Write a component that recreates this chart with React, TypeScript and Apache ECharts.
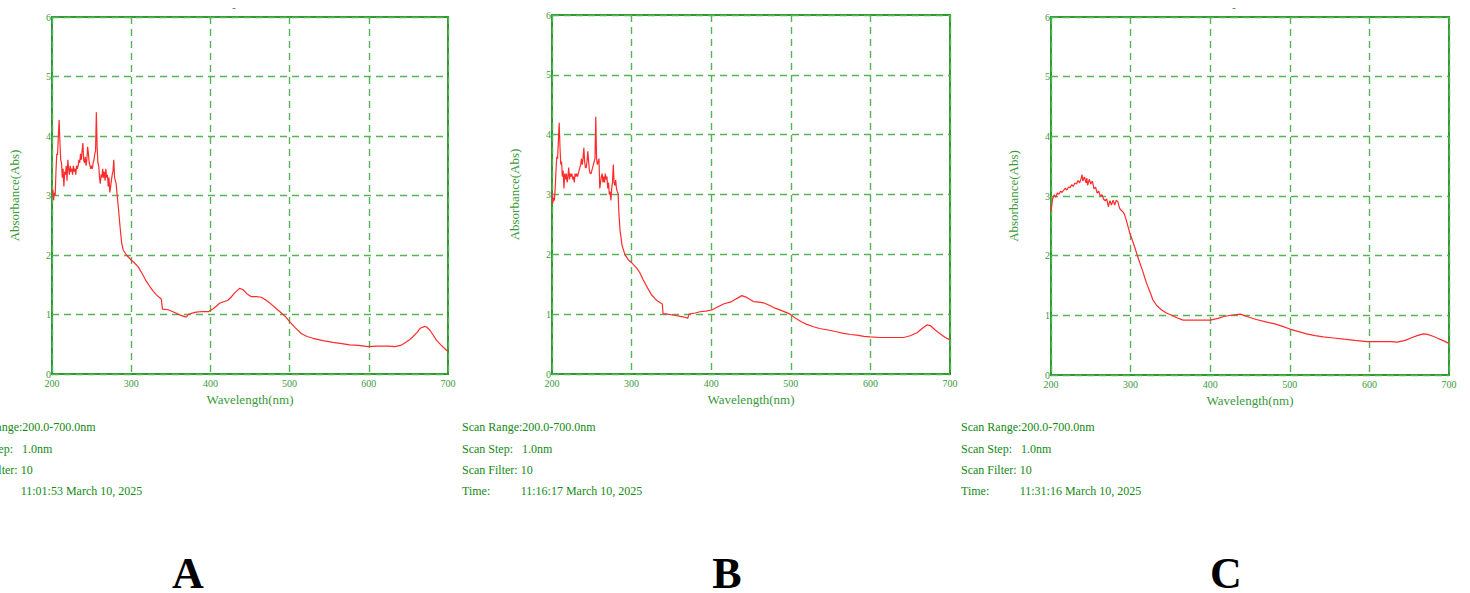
import React, { useEffect, useRef } from "react";
import * as echarts from "echarts";

// ---------- data ----------
const waveA = [200,201,202,203,204,205,206,207,208,209,210,211,212,213,214,215,216,217,218,219,220,221,222,223,224,225,226,227,228,229,230,231,232,233,234,235,236,237,238,239,240,241,242,243,244,245,246,247,248,249,250,251,252,253,254,255,256,257,258,259,260,261,262,263,264,265,266,267,268,269,270,271,272,273,274,275,276,277,278,279,280,281,282,
  283.7,285.9,288,290,294,299.6,304,308.9,315,319,323.5,328,331.8,338,339.5,346.6,352,357,362,368.5,370,371.8,376,382,390,397.8,404,411.6,422,426,430.5,436.8,441,446,451.6,458,464.2,470.5,477,483,490,495,500,507,514.7,522,529.5,542,554.8,566,575.8,587,599,610,618,625,632.8,640,645.4,651,656,661,665,670.6,673,677,681,685.4,691,698,700];
const absA = [3.05,3.10,2.92,3.05,3.0,3.4,3.7,3.68,4.0,4.27,3.9,3.6,3.55,3.3,3.45,3.15,3.4,3.35,3.5,3.25,3.6,3.45,3.35,3.5,3.4,3.45,3.35,3.5,3.4,3.45,3.35,3.5,3.45,3.5,3.6,3.55,3.7,3.6,3.75,3.88,3.6,3.55,3.65,3.5,3.6,3.82,3.7,3.55,3.5,3.45,3.5,3.45,3.55,3.6,3.7,3.75,4.4,3.8,3.55,3.5,3.3,3.2,3.35,3.3,3.45,3.3,3.4,3.25,3.45,3.3,3.35,3.15,3.3,3.05,3.15,3.25,3.35,3.4,3.6,3.3,3.25,3.2,3.04,
  2.81,2.48,2.2,2.08,2.0,1.92,1.87,1.80,1.66,1.56,1.47,1.39,1.33,1.26,1.09,1.08,1.05,1.02,0.99,0.96,0.96,1.0,1.02,1.04,1.05,1.05,1.10,1.19,1.24,1.29,1.36,1.44,1.42,1.35,1.30,1.30,1.29,1.24,1.17,1.10,1.02,0.96,0.88,0.78,0.68,0.63,0.60,0.56,0.53,0.51,0.49,0.48,0.46,0.47,0.47,0.47,0.46,0.48,0.52,0.57,0.63,0.70,0.77,0.80,0.79,0.74,0.66,0.57,0.49,0.40,0.38];

const waveB = [200,201,202,203,204,205,206,207,208,209,210,211,212,213,214,215,216,217,218,219,220,221,222,223,224,225,226,227,228,229,230,231,232,233,234,235,236,237,238,239,240,241,242,243,244,245,246,247,248,249,250,251,252,253,254,255,256,257,258,259,260,261,262,263,264,265,266,267,268,269,270,271,272,273,274,275,276,277,278,279,280,281,282,283,
  284,285.4,288,291.7,295.9,300,306.4,310,314.7,320,325.2,330,333.6,338.6,339.5,345,350,363,369,370.5,372.2,380,386,393,400.7,408,415.4,425.8,432,438.4,444.7,453,460,465.6,473,480.3,490,499.2,506,513.8,520,528.5,536,545.3,556,566.2,575,583,592,599.8,612,625,641.7,650,658.5,665,671,675.3,681,687.9,694,700];
const absB = [3.05,2.85,2.95,2.9,3.1,3.4,3.63,3.6,3.9,4.2,3.8,3.5,3.55,3.3,3.4,3.1,3.35,3.25,3.35,3.2,3.3,3.45,3.25,3.35,3.3,3.35,3.25,3.3,3.2,3.35,3.3,3.35,3.3,3.35,3.4,3.45,3.5,3.6,3.5,3.6,3.78,3.55,3.45,3.45,3.55,3.72,3.55,3.4,3.35,3.35,3.4,3.45,3.5,3.55,3.6,4.3,3.6,3.5,3.55,3.6,3.1,3.2,3.3,3.35,3.2,3.3,3.2,3.35,3.25,3.3,3.1,3.2,3.0,3.05,2.9,3.1,3.2,3.5,3.2,3.15,3.24,3.1,3.05,3.02,
  2.7,2.41,2.15,1.99,1.91,1.86,1.77,1.70,1.57,1.44,1.32,1.25,1.21,1.17,1.01,1.00,0.99,0.96,0.94,0.93,1.0,1.02,1.04,1.05,1.07,1.12,1.17,1.21,1.26,1.31,1.28,1.21,1.20,1.19,1.15,1.10,1.05,1.0,0.93,0.87,0.83,0.79,0.76,0.74,0.71,0.68,0.66,0.65,0.63,0.62,0.61,0.61,0.61,0.64,0.69,0.76,0.82,0.81,0.74,0.67,0.61,0.57];

const waveC = [200,202,204,206,208,210,212,214,216,218,220,222,224,226,228,230,232,234,236,238,239,240,242,244,245,246,248,250,252,254,256,258,260,262,264,266,268,270,272,274,276,278,280,282,284,286,288,290,292,294,
  299,305,309.5,315,320,325,328,333,339,345,350,358,366,383,400,410,417,430,438,446,458,470,480,490,500,510,521,532,542,555,568,582,597,615,627,635,645,652,660,668,673,680,685,692,700];
const absC = [2.74,2.95,3.02,2.98,3.05,3.03,3.08,3.06,3.1,3.13,3.1,3.15,3.14,3.19,3.16,3.22,3.2,3.26,3.22,3.3,3.36,3.25,3.32,3.22,3.3,3.18,3.28,3.2,3.25,3.12,3.15,3.05,3.08,3.0,3.02,2.95,2.92,2.95,2.82,2.92,2.85,2.93,2.85,2.93,2.9,2.8,2.76,2.74,2.7,2.62,
  2.38,2.15,1.96,1.75,1.54,1.37,1.26,1.16,1.09,1.04,1.01,0.96,0.92,0.92,0.92,0.95,0.98,1.01,1.02,0.98,0.93,0.89,0.86,0.82,0.77,0.73,0.69,0.66,0.64,0.62,0.60,0.58,0.56,0.56,0.56,0.55,0.58,0.62,0.66,0.69,0.68,0.65,0.62,0.58,0.53];

const xTicks = { min: 200, max: 700, step: 100 };
const yTicks = { min: 0, max: 6, step: 1 };
const panelLetters = ["A", "B", "C"];
const scanTimes = ["11:01:53 March 10, 2025", "11:16:17 March 10, 2025", "11:31:16 March 10, 2025"];
const infoLabels = ["Scan Range:200.0-700.0nm", "Scan Step:   1.0nm", "Scan Filter: 10", "Time:"];

// ---------- layout ----------
const grids = [
  { left: 52, top: 17, width: 396, height: 357 },
  { left: 552, top: 15, width: 398, height: 359 },
  { left: 1051, top: 17, width: 398, height: 358 },
];
const infoX = [-38, 462, 961];
const letterX = [188, 727, 1226];
const dashX = [234, null, 1234];

const BORDER = "#2f9a2f";
const GRIDC = "#55b455";
const LABELC = "#3a9a3a";
const TEXTC = "#138a13";
const LINEC = "#ff2b2b";
const SERIF = "'Liberation Serif', 'Times New Roman', serif";

export default function App() {
  const ref = useRef<HTMLDivElement>(null);
  useEffect(() => {
    if (!ref.current) return;
    const chart = echarts.init(ref.current, null, { renderer: "svg" });
    const waves = [waveA, waveB, waveC];
    const abss = [absA, absB, absC];
    const graphic: any[] = [];
    grids.forEach((g, i) => {
      const ys = [427, 449, 470, 491];
      infoLabels.forEach((t, k) => {
        graphic.push({
          type: "text", x: infoX[i], y: ys[k],
          style: { text: t, fill: TEXTC, font: `12px ${SERIF}`, textVerticalAlign: "middle" },
        });
      });
      graphic.push({
        type: "text", x: infoX[i] + 58.7, y: ys[3],
        style: { text: scanTimes[i], fill: TEXTC, font: `12px ${SERIF}`, textVerticalAlign: "middle" },
      });
      graphic.push({
        type: "text", x: letterX[i], y: 573,
        style: { text: panelLetters[i], fill: "#000", font: `bold 44px ${SERIF}`, textAlign: "center", textVerticalAlign: "middle" },
      });
      if (dashX[i] !== null) {
        graphic.push({
          type: "text", x: dashX[i], y: 7,
          style: { text: "-", fill: TEXTC, font: `10px ${SERIF}`, textAlign: "center", textVerticalAlign: "middle" },
        });
      }
    });

    const option: any = {
      animation: false,
      grid: grids.map((g) => ({ ...g, show: true, borderColor: BORDER, borderWidth: 2, backgroundColor: "transparent" })),
      xAxis: grids.map((_, i) => ({
        type: "value", gridIndex: i, min: xTicks.min, max: xTicks.max, interval: xTicks.step,
        name: "Wavelength(nm)", nameLocation: "middle", nameGap: 16,
        nameTextStyle: { color: LABELC, fontFamily: SERIF, fontSize: 13 },
        axisLine: { show: false }, axisTick: { show: false },
        axisLabel: { color: LABELC, fontFamily: SERIF, fontSize: 10, margin: 4, showMinLabel: true, showMaxLabel: true },
        splitLine: { show: true, lineStyle: { color: GRIDC, type: [7, 5], width: 1.4 } },
      })),
      yAxis: grids.map((_, i) => ({
        type: "value", gridIndex: i, min: yTicks.min, max: yTicks.max, interval: yTicks.step,
        name: "Absorbance(Abs)", nameLocation: "middle", nameGap: 31,
        nameTextStyle: { color: LABELC, fontFamily: SERIF, fontSize: 13 },
        axisLine: { show: false }, axisTick: { show: false },
        axisLabel: { color: LABELC, fontFamily: SERIF, fontSize: 10, margin: 1, padding: [0, 0, 6, 0], showMinLabel: true, showMaxLabel: true },
        splitLine: { show: true, lineStyle: { color: GRIDC, type: [7, 5], width: 1.4 } },
      })),
      series: grids.map((_, i) => ({
        type: "line", xAxisIndex: i, yAxisIndex: i, showSymbol: false, symbol: "none",
        lineStyle: { color: LINEC, width: 1.2 },
        data: waves[i].map((w, k) => [w, abss[i][k]]),
      })),
      graphic,
    };
    chart.setOption(option);
    return () => chart.dispose();
  }, []);
  return (
    <div
      ref={ref}
      style={{ position: "absolute", left: 0, top: 0, width: 1470, height: 593, background: "#fff" }}
    />
  );
}
